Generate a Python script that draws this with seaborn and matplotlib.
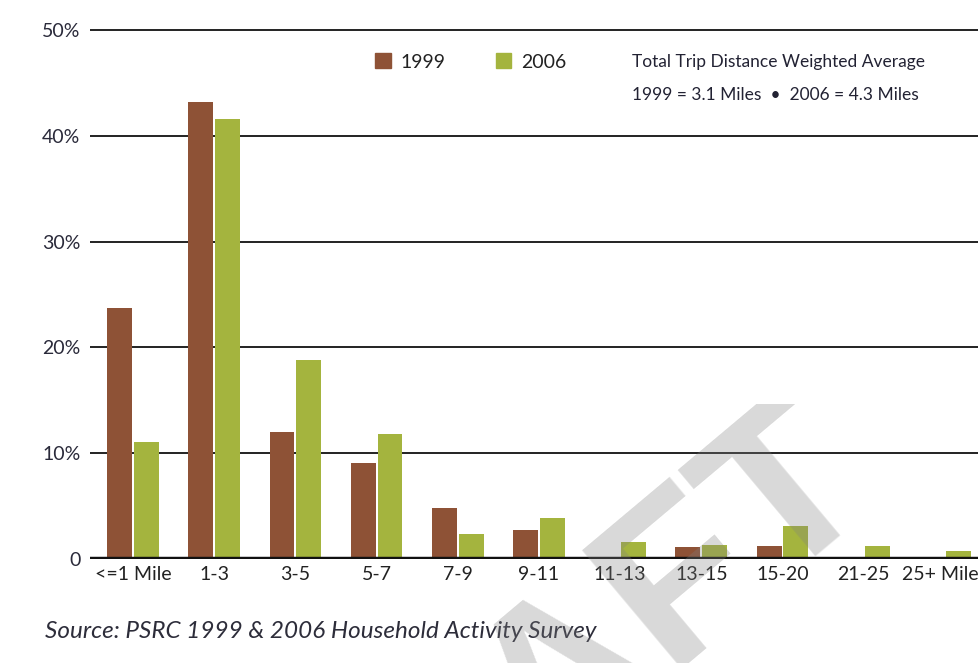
import matplotlib
matplotlib.use("Agg")
import matplotlib.pyplot as plt
import matplotlib.patches as mpatches
from matplotlib.transforms import Bbox, TransformedBbox
import seaborn as sns
import pandas as pd

categories = ["<=1 Mile", "1-3", "3-5", "5-7", "7-9", "9-11", "11-13", "13-15", "15-20", "21-25", "25+ Miles"]
pct_1999 = [23.7, 43.2, 12.0, 9.1, 4.8, 2.7, 0.2, 1.1, 1.2, 0.0, 0.0]
pct_2006 = [11.1, 41.6, 18.8, 11.8, 2.4, 3.9, 1.6, 1.35, 3.1, 1.2, 0.75]
years = ["1999", "2006"]
yticks = [0, 10, 20, 30, 40, 50]
ytick_labels = ["0", "10%", "20%", "30%", "40%", "50%"]

colors = {"1999": "#8E5236", "2006": "#A4B43E"}

df = pd.DataFrame({
    "category": categories * 2,
    "year": [years[0]] * len(categories) + [years[1]] * len(categories),
    "pct": pct_1999 + pct_2006,
})

sns.set_style("white")
plt.rcParams["font.family"] = ["Lato", "DejaVu Sans"]

W, H = 979, 663
fig = plt.figure(figsize=(W / 100, H / 100), dpi=100)
ax = fig.add_axes([90 / W, 1 - 559 / H, 1 - 90 / W, (559 - 28) / H])

sns.barplot(data=df, x="category", y="pct", hue="year", palette=colors,
            order=categories, hue_order=years, width=0.66, gap=0.07,
            ax=ax, legend=False, saturation=1, edgecolor="none", zorder=3)

ax.set_xlim(-0.53, 10.42)
ax.set_ylim(0, 50.2)
ax.set_yticks(yticks)
ax.set_yticklabels(ytick_labels, fontsize=14, color="#2a2a3a")
ax.tick_params(axis="y", length=0, pad=7)
ax.tick_params(axis="x", length=0, pad=5, labelsize=14, labelcolor="#222222")
ax.set_xlabel("")
ax.set_ylabel("")
for s in ax.spines.values():
    s.set_visible(False)
for y in yticks[1:]:
    ax.axhline(y, color="#111111", lw=1.3, zorder=1)
ax.axhline(0, color="#111111", lw=3.2, zorder=4)

handles = [mpatches.Patch(color=colors[y], label=y) for y in years]
fig.legend(handles=handles, ncol=2, frameon=False, loc="center left",
           bbox_to_anchor=(375 / W, 1 - 62 / H), borderpad=0, borderaxespad=0,
           handlelength=0.8, handleheight=0.8,
           handletextpad=0.5, columnspacing=2.6, fontsize=14, labelcolor="#222222")

fig.text(632 / W, 1 - 62 / H, "Total Trip Distance Weighted Average",
         fontsize=12.5, color="#222233", ha="left", va="center")
fig.text(632 / W, 1 - 95 / H, "1999 = 3.1 Miles  \u2022  2006 = 4.3 Miles",
         fontsize=12.5, color="#222233", ha="left", va="center")

fig.text(45 / W, 1 - 632 / H, "Source: PSRC 1999 & 2006 Household Activity Survey",
         fontsize=17.5, style="italic", color="#2d2d3a", ha="left", va="center")

wm = fig.text(878 / W, 1 - 492 / H, "DRAFT", rotation=40, rotation_mode="anchor",
              fontsize=162, fontweight="bold", color="#808080", alpha=0.3,
              ha="right", va="baseline", zorder=10, family=["Liberation Sans", "DejaVu Sans"])
wm.set_clip_box(TransformedBbox(Bbox([[0, 0], [1, 1 - 404 / H]]), fig.transFigure))
wm.set_clip_on(True)

fig.savefig("out.png", dpi=100, facecolor="white")
